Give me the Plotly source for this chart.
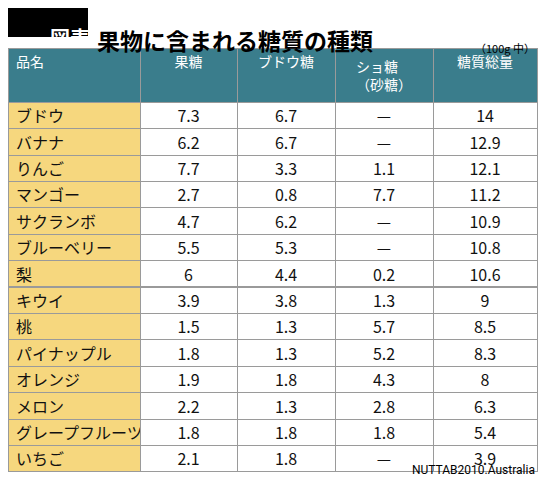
import plotly.graph_objects as go

names = ["ブドウ","バナナ","りんご","マンゴー","サクランボ","ブルーベリー","梨","キウイ","桃","パイナップル","オレンジ","メロン","グレープフルーツ","いちご"]
fructose = ["7.3","6.2","7.7","2.7","4.7","5.5","6","3.9","1.5","1.8","1.9","2.2","1.8","2.1"]
glucose = ["6.7","6.7","3.3","0.8","6.2","5.3","4.4","3.8","1.3","1.3","1.8","1.3","1.8","1.8"]
sucrose = ["—","—","1.1","7.7","—","—","0.2","1.3","5.7","5.2","4.3","2.8","1.8","—"]
total = ["14","12.9","12.1","11.2","10.9","10.8","10.6","9","8.5","8.3","8","6.3","5.4","3.9"]
headers = ["品名","果糖","ブドウ糖","ショ糖<br>（砂糖）","糖質総量"]

F = "Noto Sans CJK JP"
W, H = 542, 484
def px(x): return max(x - 8, 0) / W
def py(y): return 1 - (y - 8) / H
n = len(names)
fig = go.Figure(go.Table(
    domain=dict(x=[0, px(537)], y=[0, py(48)]),
    columnwidth=[132, 97, 98, 98, 104],
    header=dict(values=headers, fill_color="#3a7d8c", line_color="#9a9a9a",
                font=dict(family=F, size=14, color="white"),
                align=["left","center","center","center","center"], height=48),
    cells=dict(values=[names, fructose, glucose, sucrose, total],
               fill_color=[["#f6d77e"]*n] + [["white"]*n]*4,
               line_color="#9a9a9a",
               font=dict(family=F, size=16, color="#111"),
               align=["left","center","center","center","center"], height=26.4),
))
fig.add_shape(type="rect", xref="paper", yref="paper", x0=0, x1=px(88),
              y0=py(37), y1=py(5), fillcolor="black", line_width=0, layer="below")
fig.add_annotation(text="<b>図表4</b>", x=px(48), y=py(21), xref="paper", yref="paper",
                   showarrow=False, font=dict(family=F, size=20, color="white"))
fig.add_annotation(text="<b>果物に含まれる糖質の種類</b>", x=px(95), y=py(21), xref="paper", yref="paper",
                   xanchor="left", showarrow=False, font=dict(family=F, size=23, color="black"))
fig.add_annotation(text="（100g 中）", x=px(537), y=py(38), xref="paper", yref="paper",
                   xanchor="right", showarrow=False, font=dict(family=F, size=11, color="black"))
fig.add_annotation(text="NUTTAB2010.Australia", x=px(537), y=py(479), xref="paper", yref="paper",
                   xanchor="right", showarrow=False, font=dict(family="Roboto", size=12, color="black"))
fig.update_layout(width=W, height=H, margin=dict(l=0, r=0, t=0, b=0),
                  paper_bgcolor="white", plot_bgcolor="white",
                  xaxis_visible=False, yaxis_visible=False)
fig.write_html("out.html")
